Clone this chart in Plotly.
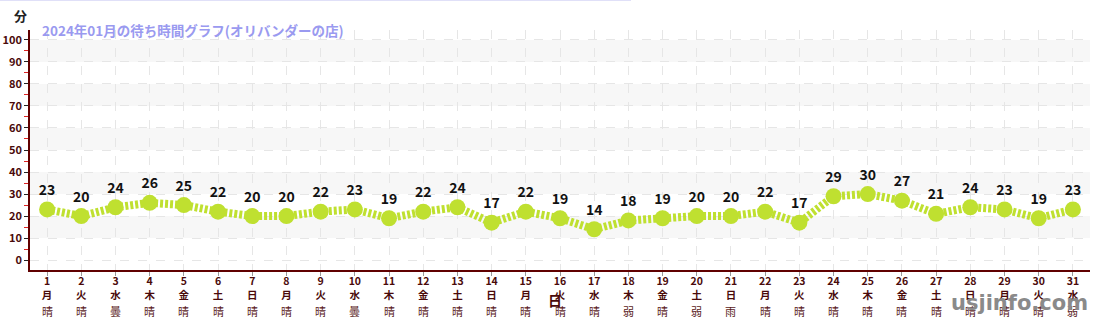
import plotly.graph_objects as go

days = list(range(1, 32))
weekdays = ["月","火","水","木","金","土","日"] * 5
weekdays = weekdays[:31]
weather = ["晴","晴","曇","晴","晴","晴","晴","晴","晴","曇",
           "晴","晴","晴","晴","晴","晴","晴","弱雨","晴","弱雨",
           "雨","晴","晴","晴","晴","晴","晴","晴","晴","晴","弱雨"]
wait_min = [23,20,24,26,25,22,20,20,22,23,19,22,24,17,22,19,14,18,19,20,
            20,22,17,29,30,27,21,24,23,19,23]
y_ticks = list(range(0, 101, 10))
title_text = "2024年01月の待ち時間グラフ(オリバンダーの店)"

FONT = "Noto Sans CJK JP"
MAROON = "#4a0a0a"
PH = 239.4  # plot height in px
PW = 1060

tick_text = [f"<b>{d}<br>{w}</b>" for d, w in zip(days, weekdays)]

fig = go.Figure()
fig.add_trace(go.Scatter(
    x=days, y=wait_min, mode="lines+markers+text",
    line=dict(color="#bfe030", width=8, dash="3px,2px"),
    marker=dict(color="#bfe030", size=16),
    text=[f"<b>{v}</b>" for v in wait_min],
    textposition="top center",
    textfont=dict(family=FONT, size=14, color="#111111"),
    cliponaxis=False, hoverinfo="skip", showlegend=False,
))

shapes = []
for lo in range(10, 100, 20):
    shapes.append(dict(type="rect", xref="paper", yref="y", x0=0, x1=1, y0=lo, y1=lo + 10,
                       fillcolor="#f7f7f7", line=dict(width=0), layer="below"))
shapes.append(dict(type="line", xref="paper", yref="paper", x0=-30/PW, x1=601/PW,
                   y0=1 + 30/PH, y1=1 + 30/PH, line=dict(color="#e0e0f8", width=2)))

annotations = []
for d, w in zip(days, weather):
    annotations.append(dict(x=d, y=-31/PH, xref="x", yref="paper", text="<br>".join(w),
                            showarrow=False, yanchor="top",
                            font=dict(family=FONT, size=11, color="#5a1a1a"), align="center"))
annotations.append(dict(x=10/PW, y=(270-31)/PH, xref="paper", yref="paper",
                        xanchor="left", yanchor="middle", text=f"<b>{title_text}</b>",
                        showarrow=False, font=dict(family=FONT, size=13.5, color="#9a9af0")))
annotations.append(dict(x=-10/PW, y=(270-16)/PH, xref="paper", yref="paper",
                        xanchor="center", yanchor="middle", text="<b>分</b>",
                        showarrow=False, font=dict(family=FONT, size=13, color="#222222")))
annotations.append(dict(x=(555-30)/PW, y=-30/PH, xref="paper", yref="paper",
                        xanchor="center", yanchor="middle", text="<b>日</b>",
                        showarrow=False, font=dict(family=FONT, size=14, color=MAROON)))
annotations.append(dict(x=(1019-30)/PW, y=-33/PH, xref="paper", yref="paper",
                        xanchor="center", yanchor="middle", text="<b>usjinfo.com</b>",
                        showarrow=False, font=dict(family="DejaVu Sans", size=21, color="#8a8a8a")))

fig.update_layout(
    width=1100, height=320,
    margin=dict(l=30, r=10, t=30, b=50, autoexpand=False),
    paper_bgcolor="white", plot_bgcolor="white",
    shapes=shapes, annotations=annotations,
    xaxis=dict(range=[0.5, 31.5], tickmode="array", tickvals=days, ticktext=tick_text,
               tickfont=dict(family=FONT, size=10.5, color=MAROON), automargin=False,
               showline=True, linecolor="#600000", linewidth=1.5,
               ticks="outside", ticklen=4, tickcolor="#999999", ticklabelstandoff=-3,
               showgrid=True, gridcolor="#e6e6e6", griddash="dash", zeroline=False,
               fixedrange=True),
    yaxis=dict(range=[-4.5, 104.5], tickmode="array", tickvals=y_ticks,
               ticktext=[f"<b>{v}</b>" for v in y_ticks],
               tickfont=dict(family=FONT, size=11, color=MAROON), automargin=False,
               showline=True, linecolor="#600000", linewidth=1.5,
               ticks="outside", ticklen=4, tickcolor="#222222",
               minor=dict(tickmode="array", tickvals=[v + 5 for v in y_ticks[:-1]],
                          ticks="outside", ticklen=4, tickcolor="#dd2222", showgrid=False),
               showgrid=True, gridcolor="#e6e6e6", griddash="dash", zeroline=False,
               fixedrange=True),
)

fig.write_html("out.html")
